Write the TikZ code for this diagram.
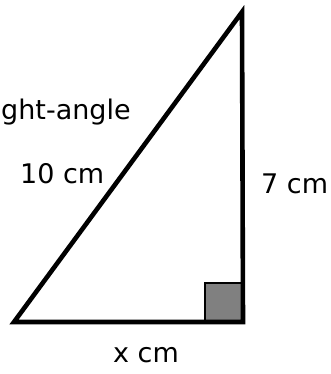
\documentclass[tikz,border=0pt]{standalone}
\usepackage{fontspec}
\setmainfont{DejaVu Sans}
\usetikzlibrary{positioning}

\begin{document}
\begin{tikzpicture}[
  x=1pt, y=-1pt,
  side/.style={draw, line width=4.6pt, line join=miter},
  rightmark/.style={draw, line width=2pt, fill=black!50},
  lbl/.style={inner sep=0pt, font=\fontsize{27}{30}\selectfont}
]
  \clip (0,0) rectangle (331,374);
  \useasboundingbox (0,0) rectangle (331,374);

  \coordinate (A) at (14,322);
  \coordinate (B) at (243,322);
  \coordinate (C) at (242,12);

  \filldraw[rightmark] (205,283) rectangle (B);
  \draw[side] (A) -- (B) -- (C) -- cycle;

  \node[lbl, anchor=base west] (ranglelbl) at (1,120) {ght-angle};
  \node[lbl, anchor=base west] (hyplbl) at (20,183) {10 cm};
  \node[lbl, anchor=base west] (vertlbl) at (261,193) {7 cm};
  \node[lbl, anchor=base west] (baselbl) at (113,362) {x cm};
\end{tikzpicture}
\end{document}
